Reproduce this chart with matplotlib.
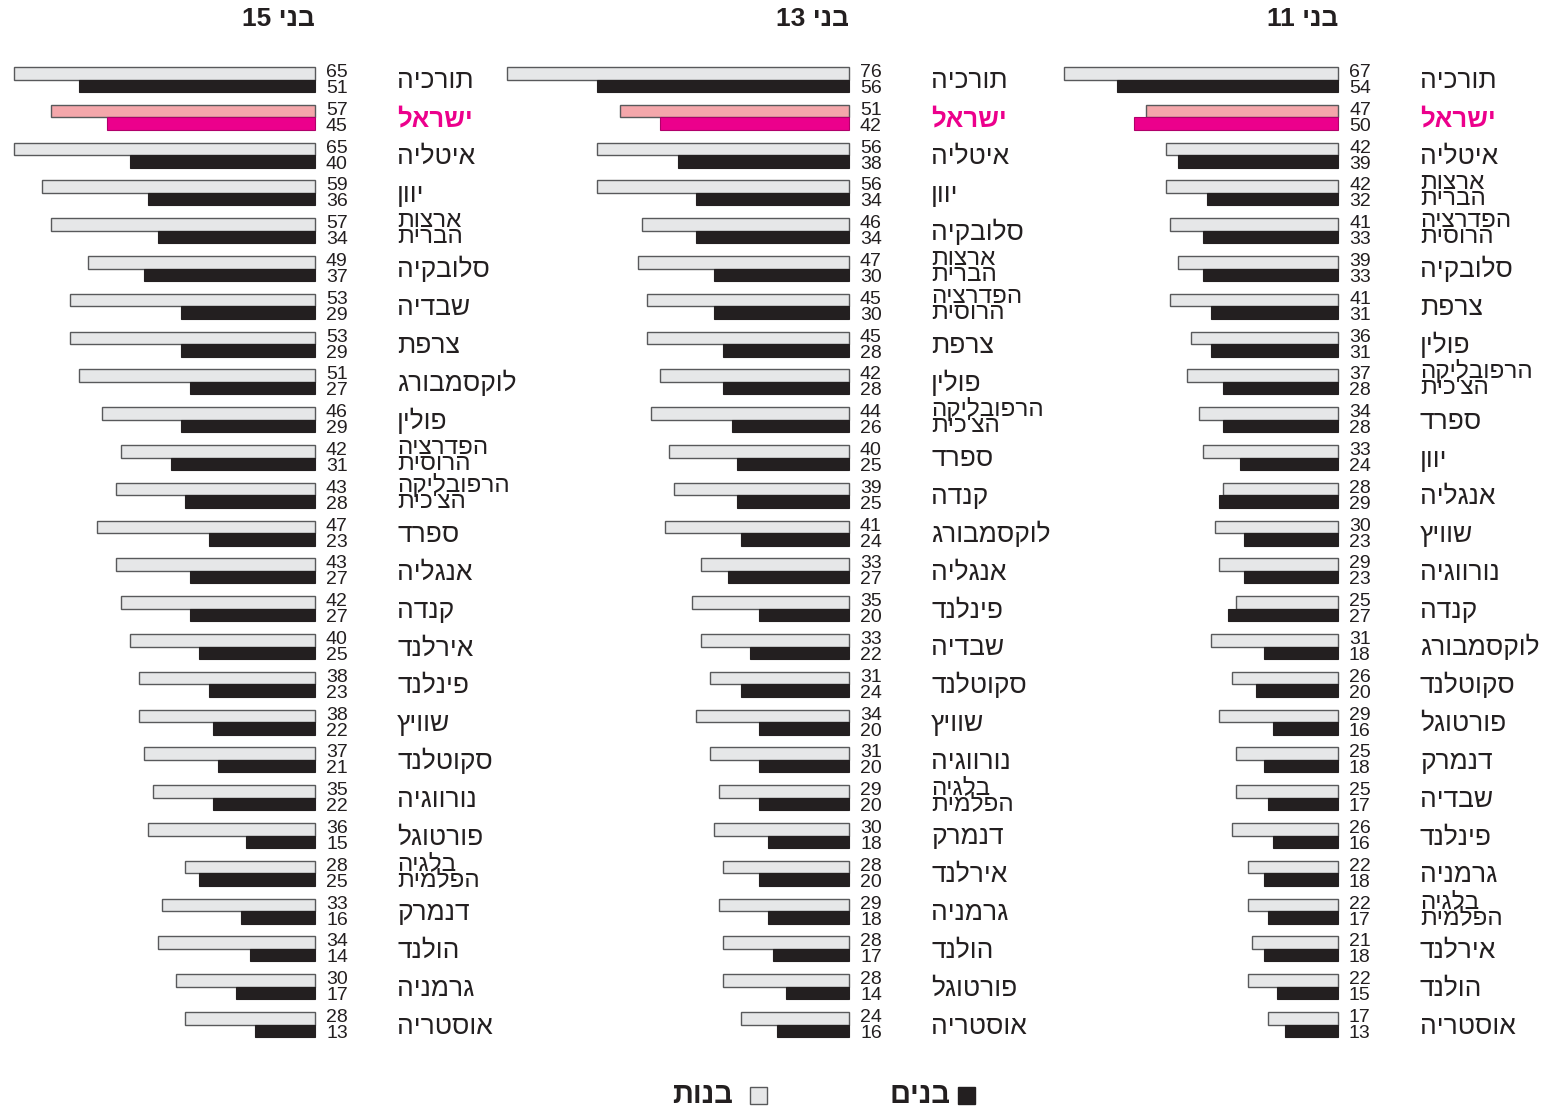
import matplotlib
matplotlib.use("Agg")
import matplotlib.pyplot as plt
from matplotlib.patches import Rectangle

plt.rcParams['font.family'] = ['Liberation Sans', 'DejaVu Sans']

# ---------------- data ----------------
age_titles = ['בני 15', 'בני 13', 'בני 11']

countries_15 = ['תורכיה', 'ישראל', 'איטליה', 'יוון', 'ארצות\nהברית', 'סלובקיה', 'שבדיה', 'צרפת',
                'לוקסמבורג', 'פולין', 'הפדרציה\nהרוסית', "הרפובליקה\nהצ'כית", 'ספרד', 'אנגליה',
                'קנדה', 'אירלנד', 'פינלנד', 'שוויץ', 'סקוטלנד', 'נורווגיה', 'פורטוגל',
                'בלגיה\nהפלמית', 'דנמרק', 'הולנד', 'גרמניה', 'אוסטריה']
girls_15 = [65, 57, 65, 59, 57, 49, 53, 53, 51, 46, 42, 43, 47, 43, 42, 40, 38, 38, 37, 35, 36, 28, 33, 34, 30, 28]
boys_15 = [51, 45, 40, 36, 34, 37, 29, 29, 27, 29, 31, 28, 23, 27, 27, 25, 23, 22, 21, 22, 15, 25, 16, 14, 17, 13]

countries_13 = ['תורכיה', 'ישראל', 'איטליה', 'יוון', 'סלובקיה', 'ארצות\nהברית', 'הפדרציה\nהרוסית', 'צרפת',
                'פולין', "הרפובליקה\nהצ'כית", 'ספרד', 'קנדה', 'לוקסמבורג', 'אנגליה', 'פינלנד', 'שבדיה',
                'סקוטלנד', 'שוויץ', 'נורווגיה', 'בלגיה\nהפלמית', 'דנמרק', 'אירלנד', 'גרמניה', 'הולנד',
                'פורטוגל', 'אוסטריה']
girls_13 = [76, 51, 56, 56, 46, 47, 45, 45, 42, 44, 40, 39, 41, 33, 35, 33, 31, 34, 31, 29, 30, 28, 29, 28, 28, 24]
boys_13 = [56, 42, 38, 34, 34, 30, 30, 28, 28, 26, 25, 25, 24, 27, 20, 22, 24, 20, 20, 20, 18, 20, 18, 17, 14, 16]

countries_11 = ['תורכיה', 'ישראל', 'איטליה', 'ארצות\nהברית', 'הפדרציה\nהרוסית', 'סלובקיה', 'צרפת', 'פולין',
                "הרפובליקה\nהצ'כית", 'ספרד', 'יוון', 'אנגליה', 'שוויץ', 'נורווגיה', 'קנדה', 'לוקסמבורג',
                'סקוטלנד', 'פורטוגל', 'דנמרק', 'שבדיה', 'פינלנד', 'גרמניה', 'בלגיה\nהפלמית', 'אירלנד',
                'הולנד', 'אוסטריה']
girls_11 = [67, 47, 42, 42, 41, 39, 41, 36, 37, 34, 33, 28, 30, 29, 25, 31, 26, 29, 25, 25, 26, 22, 22, 21, 22, 17]
boys_11 = [54, 50, 39, 32, 33, 33, 31, 31, 28, 28, 24, 29, 23, 23, 27, 18, 20, 16, 18, 17, 16, 18, 17, 18, 15, 13]

legend_labels = ['בנים', 'בנות']
highlight = 'ישראל'

# ---------------- style ----------------
GIRL_FC, GIRL_EC = '#e6e7e8', '#58595b'
BOY_FC = '#231f20'
ISR_GIRL, ISR_BOY, ISR_TXT = '#f4a7ab', '#ec008c', '#ec008c'
TXT = '#231f20'

W, H = 1554, 1106
fig = plt.figure(figsize=(W / 100, H / 100), dpi=100)


def vis(s):
    """Visual (left-to-right) order for a Hebrew line."""
    toks = s.split(' ')[::-1]
    out = []
    for t in toks:
        if any('\u0590' <= ch <= '\u05ff' for ch in t):
            out.append(t[::-1])
        else:
            out.append(t)
    return ' '.join(out)


ROW0 = 79.5      # pixel y of first row centre
PITCH = 37.8     # pixel row pitch
BH = 12.5        # pixel bar height

panels = [
    # (x0, x1, baseline px, px per unit, title, countries, girls, boys)
    (0, 545, 315, 4.63, age_titles[0], countries_15, girls_15, boys_15),
    (490, 1060, 849, 4.50, age_titles[1], countries_13, girls_13, boys_13),
    (1040, 1554, 1338, 4.09, age_titles[2], countries_11, girls_11, boys_11),
]

for x0, x1, B, s, title, names, girls, boys in panels:
    ax = fig.add_axes([x0 / W, 0, (x1 - x0) / W, 1])
    ax.set_xlim((B - x0) / s, (B - x1) / s)
    ax.set_ylim((H - ROW0) / PITCH, -ROW0 / PITCH)
    ax.axis('off')
    h = BH / PITCH
    n = len(names)
    for i in range(n):
        isr = names[i] == highlight
        gfc = ISR_GIRL if isr else GIRL_FC
        bfc = ISR_BOY if isr else BOY_FC
        bec = '#b0006a' if isr else BOY_FC
        ax.barh(i - h / 2, girls[i], height=h, left=0, color=gfc,
                edgecolor=GIRL_EC, linewidth=1.0)
        ax.barh(i + h / 2, boys[i], height=h, left=0, color=bfc,
                edgecolor=bec, linewidth=0.8)
        # values
        ax.text(-11 / s, i - 2.5 / PITCH, str(girls[i]), ha='left', va='baseline',
                fontsize=14, color=TXT)
        ax.text(-11 / s, i + 13.5 / PITCH, str(boys[i]), ha='left', va='baseline',
                fontsize=14, color=TXT)
        # country name
        lines = names[i].split('\n')
        if len(lines) == 1:
            ax.text(-82 / s, i + 9 / PITCH, vis(lines[0]), ha='left', va='baseline',
                    fontsize=18.5 if isr else 19, color=ISR_TXT if isr else TXT,
                    fontweight='bold' if isr else 'normal')
        else:
            ax.text(-82 / s, i - 3.5 / PITCH, vis(lines[0]), ha='left', va='baseline',
                    fontsize=17.5, color=TXT)
            ax.text(-82 / s, i + 12.5 / PITCH, vis(lines[1]), ha='left', va='baseline',
                    fontsize=17.5, color=TXT)
    # title
    ax.text(0, (26 - ROW0) / PITCH, vis(title), ha='right', va='baseline',
            fontsize=19, fontweight='bold', color=TXT)

# ---------------- legend ----------------
lax = fig.add_axes([0, 0, 1, 1])
lax.set_xlim(0, W)
lax.set_ylim(H, 0)
lax.axis('off')
lax.add_patch(Rectangle((958, 1087), 17, 17, facecolor=BOY_FC, edgecolor=BOY_FC))
lax.text(950, 1103, vis(legend_labels[0]), ha='right', va='baseline',
         fontsize=21, fontweight='bold', color=TXT)
lax.add_patch(Rectangle((750, 1087), 17, 17, facecolor=GIRL_FC, edgecolor=GIRL_EC, linewidth=1))
lax.text(733, 1103, vis(legend_labels[1]), ha='right', va='baseline',
         fontsize=21, fontweight='bold', color=TXT)

fig.savefig('out.png', dpi=100, facecolor='white')
